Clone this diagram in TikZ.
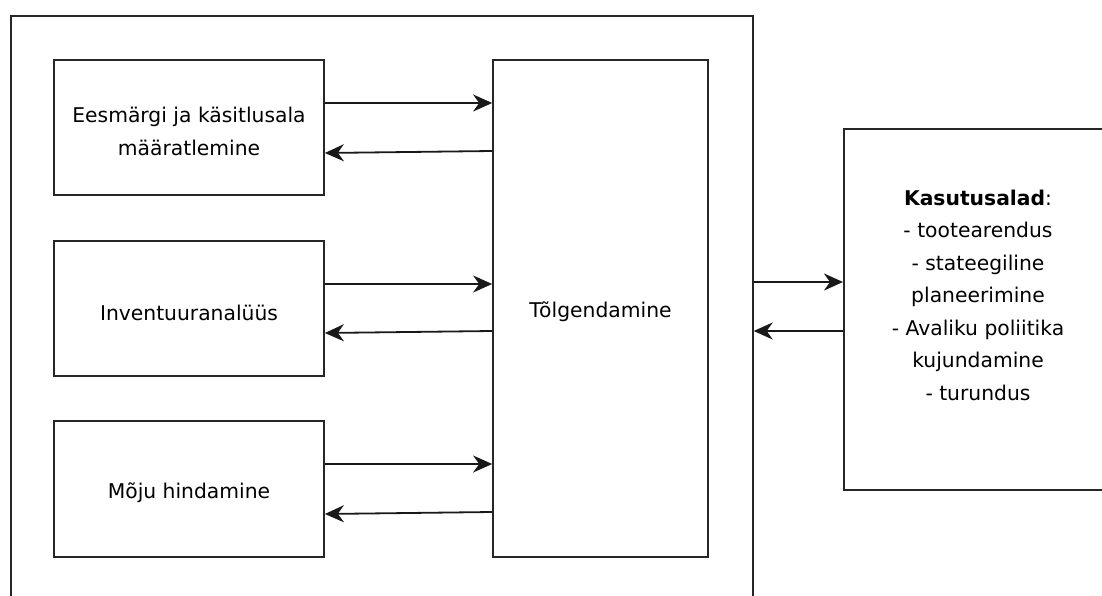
\documentclass[tikz,border=0pt]{standalone}
\usepackage{fontspec}
\setmainfont{DejaVu Sans}
\usetikzlibrary{arrows.meta}
\begin{document}
\begin{tikzpicture}[x=1pt,y=-1pt,
  txt/.style={align=center,font=\fontsize{20.3}{32.5}\selectfont},
  box/.style={draw=black!85,line width=1.7pt,rectangle,inner sep=0pt},
  conn/.style={draw=black!90,line width=1.8pt,-{Stealth[length=19pt,width=17pt,inset=6pt]}}]
\useasboundingbox (0,0) rectangle (1102,596);
\clip (0,0) rectangle (1102,596);
\fill[white] (0,0) rectangle (1102,596);
\node[box,minimum width=742pt,minimum height=640pt,anchor=north west] (outer) at (10,15) {};
\node[box,minimum width=270pt,minimum height=135pt,label={[txt,yshift=-4pt]center:Eesmärgi ja käsitlusala\\määratlemine}] (b1) at (189,127.5) {};
\node[box,minimum width=270pt,minimum height=135pt,label={[txt,yshift=-4pt]center:Inventuuranalüüs}] (b2) at (189,308.5) {};
\node[box,minimum width=270pt,minimum height=136pt,label={[txt,yshift=-4pt]center:Mõju hindamine}] (b3) at (189,489) {};
\node[box,minimum width=215pt,minimum height=497pt,label={[txt,yshift=-3pt]center:Tõlgendamine}] (t) at (600.5,308.5) {};
\node[box,minimum width=300pt,minimum height=361pt,anchor=north west] (k) at (843,128) {};
\node[txt] (kt) at (978,295) {\textbf{Kasutusalad}:\\- tootearendus\\- stateegiline\\planeerimine\\- Avaliku poliitika\\kujundamine\\- turundus};
\draw[conn] (b1.east |- 0,103) -- (t.west |- 0,103);
\draw[conn] (t.west |- 0,151) -- (b1.east |- 0,153);
\draw[conn] (b2.east |- 0,284) -- (t.west |- 0,284);
\draw[conn] (t.west |- 0,331) -- (b2.east |- 0,333);
\draw[conn] (b3.east |- 0,464) -- (t.west |- 0,464);
\draw[conn] (t.west |- 0,512) -- (b3.east |- 0,514);
\draw[conn] (outer.east |- 0,282) -- (k.west |- 0,282);
\draw[conn] (k.west |- 0,331) -- (outer.east |- 0,331);
\end{tikzpicture}
\end{document}
